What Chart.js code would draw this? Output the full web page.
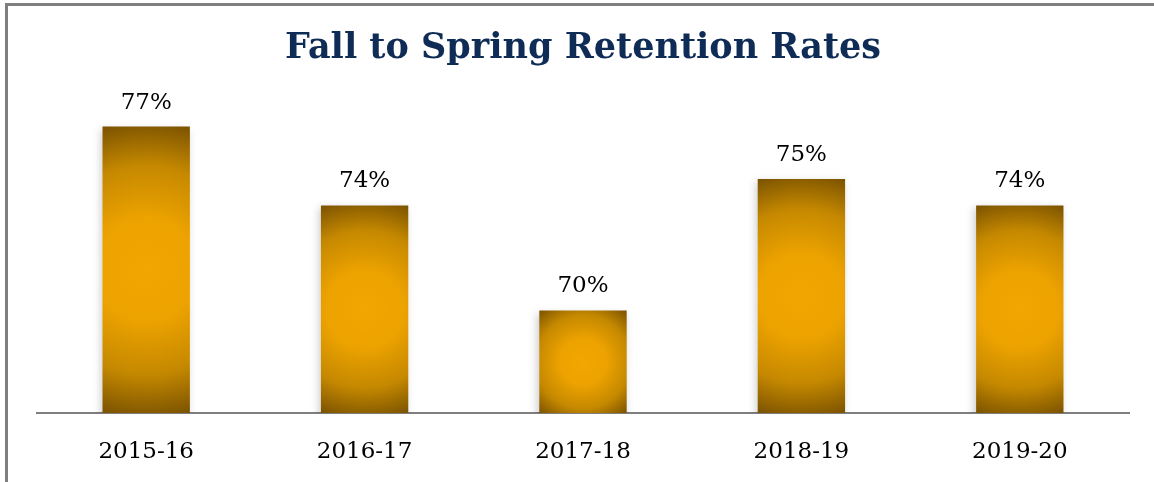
<!DOCTYPE html>
<html>
<head>
<meta charset="utf-8">
<title>Fall to Spring Retention Rates</title>
<script src="https://cdn.jsdelivr.net/npm/chart.js@4/dist/chart.umd.min.js"></script>
<style>
    html, body { margin: 0; padding: 0; overflow: hidden; background: #fff; }
    #frame {
        position: absolute; left: 5px; top: 3px;
        width: 1200px; height: 520px;
        border-left: 3px solid #7f7f7f; border-top: 3px solid #7f7f7f;
    }
    #retention { position: absolute; left: 0; top: 0; }
</style>
</head>
<body>
<div id="frame"></div>
<canvas id="retention" width="1154" height="482"></canvas>
<script>
const years = ['2015-16', '2016-17', '2017-18', '2018-19', '2019-20'];
const retentionRates = [77, 74, 70, 75, 74];

const FONT = '"DejaVu Serif", "Liberation Serif", serif';

// radial fill for each bar: bright gold in the middle, dark bronze at the edges
function barGradient(context) {
    const chart = context.chart;
    const area = chart.chartArea;
    if (!area || context.type !== 'data') return '#d89400';
    const xs = chart.scales.x, ys = chart.scales.y;
    const cx = xs.getPixelForValue(context.dataIndex);
    const top = ys.getPixelForValue(context.raw);
    const bottom = area.bottom;
    const halfW = (xs.width / years.length) * 0.4 / 2;
    const halfH = (bottom - top) / 2;
    const cy = top + halfH;
    const r = Math.sqrt(halfW * halfW + halfH * halfH);
    const g = chart.ctx.createRadialGradient(cx, cy, 0, cx, cy, r);
    g.addColorStop(0, '#f2a600');
    g.addColorStop(0.35, '#eca200');
    g.addColorStop(0.7, '#c48800');
    g.addColorStop(1, '#7a5200');
    return g;
}

const barDecor = {
    id: 'barDecor',
    beforeDatasetsDraw(chart) {
        const ctx = chart.ctx;
        ctx.save();
        ctx.shadowColor = 'rgba(0,0,0,0.2)';
        ctx.shadowBlur = 8;
        ctx.shadowOffsetX = -2;
        ctx.shadowOffsetY = 3;
    },
    afterDatasetsDraw(chart) {
        const ctx = chart.ctx;
        ctx.restore();
        ctx.save();
        ctx.font = '23px ' + FONT;
        ctx.fillStyle = '#000';
        ctx.textAlign = 'center';
        ctx.textBaseline = 'middle';
        chart.getDatasetMeta(0).data.forEach((bar, i) => {
            ctx.fillText(retentionRates[i] + '%', bar.x, bar.y - 24);
        });
        ctx.restore();
    }
};

new Chart(document.getElementById('retention'), {
    type: 'bar',
    data: {
        labels: years,
        datasets: [{
            data: retentionRates,
            backgroundColor: barGradient,
            borderWidth: 0,
            barPercentage: 0.4,
            categoryPercentage: 1
        }]
    },
    options: {
        responsive: false,
        animation: false,
        layout: { padding: { left: 37, right: 25, top: 0, bottom: 0 } },
        plugins: {
            legend: { display: false },
            tooltip: { enabled: false },
            title: {
                display: true,
                text: 'Fall to Spring Retention Rates',
                color: '#0e2c56',
                font: { family: FONT, size: 35, weight: 'bold', lineHeight: 1.2 },
                padding: { top: 28, bottom: 4 }
            }
        },
        scales: {
            x: {
                grid: { display: false, drawTicks: false },
                border: { display: true, color: '#7f7f7f', width: 2 },
                ticks: { color: '#000', padding: 25, font: { family: FONT, size: 23 } },
                afterFit(scale) { scale.height = 69; }
            },
            y: {
                display: false,
                min: 66.1,
                max: 79
            }
        }
    },
    plugins: [barDecor]
});
</script>
</body>
</html>
